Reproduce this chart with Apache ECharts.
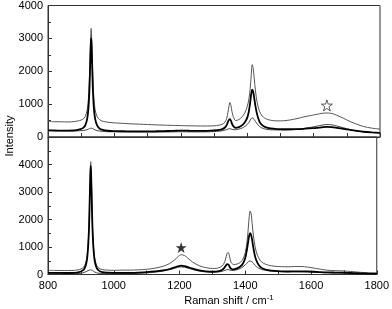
<!DOCTYPE html>
<html><head><meta charset="utf-8">
<script src="https://cdn.jsdelivr.net/npm/echarts@6/dist/echarts.min.js"></script>
<style>html,body{margin:0;padding:0;background:#fff}#c{width:392px;height:309px}</style>
</head><body><div id="c"></div>
<script>
// Raman shift (cm^-1) sample positions
const shift = [800,820,840,860,880,895,905,912,918,922,925,927,929,930,931,933,935,938,942,948,955,965,980,1000,1025,1050,1075,1100,1125,1150,1170,1185,1195,1205,1215,1225,1240,1260,1280,1300,1315,1325,1333,1338,1342,1345,1348,1351,1354,1358,1365,1375,1385,1393,1400,1405,1409,1412,1415,1418,1421,1425,1430,1437,1445,1455,1470,1490,1510,1530,1550,1570,1590,1610,1625,1640,1655,1670,1690,1710,1730,1750,1775,1800];

// Top panel
const topGray = [470,465,462,458,470,500,540,620,820,1200,1850,2550,3150,3300,3150,2550,1850,1200,820,620,530,480,450,430,415,400,390,380,370,360,355,350,348,345,342,340,338,335,335,340,360,390,450,560,750,930,1050,960,780,620,500,530,620,740,920,1150,1480,1850,2200,2080,1800,1400,1050,780,640,560,510,490,495,520,560,610,650,690,720,730,715,660,570,470,390,320,270,240];
const topBlack = [200,198,196,195,200,230,270,350,550,900,1500,2200,2850,3000,2850,2200,1500,900,550,350,260,215,190,180,175,172,170,172,175,180,185,190,192,193,192,190,188,185,188,200,215,240,290,360,460,520,545,500,410,330,280,300,360,450,580,780,1050,1300,1440,1380,1200,930,680,470,360,300,260,240,235,235,240,250,265,280,295,305,300,280,250,215,185,160,140,125];
const topThin = [190,188,186,185,185,190,200,210,225,240,255,262,268,270,268,262,252,235,215,195,180,170,162,158,155,152,150,150,150,152,155,158,160,160,158,156,155,155,158,165,175,190,210,225,240,248,250,245,235,225,220,240,275,320,380,440,510,560,580,570,530,470,400,320,270,240,220,215,215,220,235,260,290,330,360,380,370,335,280,225,185,160,140,130];

// Bottom panel
const botGray = [150,148,146,145,150,180,230,330,600,1100,1900,2900,3850,4100,3850,2900,1900,1100,600,330,230,180,160,150,160,160,170,190,230,300,400,530,640,720,690,600,450,320,250,220,230,270,360,480,650,770,800,720,560,420,360,380,440,560,800,1150,1650,2100,2310,2200,1850,1400,1000,700,520,410,340,300,285,280,290,290,270,230,200,170,150,140,135,120,100,80,60,50];
const botBlack = [60,58,56,55,60,90,140,240,500,1000,1800,2800,3700,3950,3700,2800,1800,1000,500,240,140,90,70,62,60,62,70,85,110,150,200,260,300,320,305,270,210,150,115,100,110,140,200,270,340,380,370,320,250,200,190,220,290,400,600,900,1200,1420,1500,1430,1250,950,650,420,290,210,160,130,115,110,112,115,110,100,90,80,75,72,68,60,50,42,35,30];
const botThin = [30,30,28,28,30,40,60,85,115,140,155,163,168,170,168,160,145,120,90,60,45,38,34,32,33,36,45,60,85,125,175,225,260,275,265,235,180,125,95,85,90,105,130,150,170,180,180,170,155,145,150,175,220,280,350,410,460,485,490,480,450,400,330,260,205,165,135,115,105,100,100,98,90,80,72,65,60,58,55,50,42,36,30,25];

// Annotation marks
const openStar = [[1640, 960]];
const filledStar = [[1205, 980]];

const xTicks = [800,1000,1200,1400,1600,1800];
const yTicks = [0,1000,2000,3000,4000];

const pair = arr => shift.map((x, i) => [x, arr[i]]);
const FONT = 'Liberation Sans, Arial, sans-serif';
const starPath = 'path://M50,2 L61,36 L97,36 L68,57 L79,92 L50,71 L21,92 L32,57 L3,36 L39,36 Z';

const chart = echarts.init(document.getElementById('c'), null, {renderer: 'canvas'});
const lineS = (data, xi, color, w) => ({type: 'line', xAxisIndex: xi, yAxisIndex: xi, data: pair(data), showSymbol: false, symbol: 'none', smooth: 0.3, lineStyle: {color: color, width: w}, silent: true, z: w > 1.2 ? 3 : 2});

const yAx = (idx, max) => ({
  type: 'value', gridIndex: idx, min: 0, max: max, interval: 1000,
  axisLine: {show: true, lineStyle: {color: '#333', width: 1}},
  axisTick: {show: true, inside: true, length: 4, lineStyle: {color: '#333'}},
  minorTick: {show: true, splitNumber: 2, length: 3, lineStyle: {color: '#333'}},
  splitLine: {show: false},
  axisLabel: {color: '#000', fontSize: 11, fontFamily: FONT, margin: 5,
    formatter: v => yTicks.includes(v) ? String(v) : ''}
});
const xAx = (idx, labels) => ({
  type: 'value', gridIndex: idx, min: 800, max: 1800, interval: 200,
  axisLine: {show: true, lineStyle: {color: '#333', width: 1}},
  axisTick: {show: true, inside: true, length: 4, lineStyle: {color: '#333'}},
  minorTick: {show: true, splitNumber: 2, length: 4, lineStyle: {color: '#333'}},
  splitLine: {show: false},
  axisLabel: {show: labels, color: '#000', fontSize: 11, fontFamily: FONT, margin: 6,
    formatter: v => xTicks.includes(v) ? String(v) : ''}
});

chart.setOption({
  animation: false,
  backgroundColor: '#fff',
  grid: [
    {left: 48, right: 12, top: 4, height: 133, show: true, borderColor: '#333', borderWidth: 1, backgroundColor: 'transparent'},
    {left: 48, right: 12, top: 137, bottom: 34.5, show: true, borderColor: '#333', borderWidth: 1, backgroundColor: 'transparent'}
  ],
  xAxis: [xAx(0, false), xAx(1, true)],
  yAxis: [yAx(0, 4000), yAx(1, 5000)],
  series: [
    lineS(topGray, 0, '#555', 1),
    lineS(topThin, 0, '#444', 1),
    lineS(topBlack, 0, '#000', 1.8),
    lineS(botGray, 1, '#555', 1),
    lineS(botThin, 1, '#444', 1),
    lineS(botBlack, 1, '#000', 1.8),
    {type: 'scatter', xAxisIndex: 0, yAxisIndex: 0, data: openStar, symbol: starPath, symbolSize: 11,
     itemStyle: {color: '#fff', borderColor: '#000', borderWidth: 0.8}, silent: true, z: 5},
    {type: 'scatter', xAxisIndex: 1, yAxisIndex: 1, data: filledStar, symbol: starPath, symbolSize: 11,
     itemStyle: {color: '#000'}, silent: true, z: 5}
  ],
  graphic: [
    {type: 'text', rotation: Math.PI / 2, x: 10, y: 136,
     style: {text: 'Intensity', font: '11px ' + FONT, fill: '#000', textAlign: 'center', textVerticalAlign: 'middle'}},
    {type: 'text', x: 229, y: 301,
     style: {text: '{a|Raman shift / cm}{b|-1}', textAlign: 'center', textVerticalAlign: 'middle',
       rich: {a: {font: '11px ' + FONT, fill: '#000'}, b: {font: '8px ' + FONT, fill: '#000', verticalAlign: 'top', padding: [0,0,6,0]}}}}
  ]
});
</script>
</body></html>
